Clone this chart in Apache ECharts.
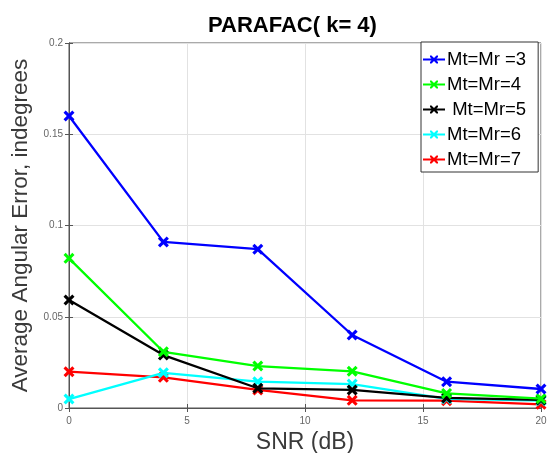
<!DOCTYPE html>
<html>
<head>
<meta charset="utf-8">
<script src="https://cdn.jsdelivr.net/npm/echarts@6/dist/echarts.min.js"></script>
<style>html,body{margin:0;padding:0;background:#fff}#c{width:552px;height:453px}</style>
</head>
<body>
<div id="c"></div>
<script>
var snr = [0, 4, 8, 12, 16, 20];
var seriesNames = ['Mt=Mr =3', 'Mt=Mr=4', ' Mt=Mr=5', 'Mt=Mr=6', 'Mt=Mr=7'];
var seriesColors = ['#0000ff', '#00ff00', '#000000', '#00ffff', '#ff0000'];
var m3 = [0.160, 0.091, 0.087, 0.040, 0.0144, 0.0104];
var m4 = [0.082, 0.0308, 0.023, 0.0201, 0.008, 0.0051];
var m5 = [0.0592, 0.029, 0.0108, 0.0099, 0.0055, 0.0044];
var m6 = [0.0049, 0.0193, 0.0144, 0.0131, 0.005, 0.004];
var m7 = [0.0199, 0.0168, 0.0099, 0.0042, 0.004, 0.002];
var xTicks = [0, 5, 10, 15, 20];
var yTicks = [0, 0.05, 0.1, 0.15, 0.2];

var allData = [m3, m4, m5, m6, m7];
var xMark = 'path://M0,2 L2,0 L5,3 L8,0 L10,2 L7,5 L10,8 L8,10 L5,7 L2,10 L0,8 L3,5 Z';
var legendIcon = 'path://M0,4.1 L22,4.1 L22,5.9 L0,5.9 Z M7,1 L8.5,1 L11,3.5 L13.5,1 L15,1 L15,2.5 L12.5,5 L15,7.5 L15,9 L13.5,9 L11,6.5 L8.5,9 L7,9 L7,7.5 L9.5,5 L7,2.5 Z';

var series = allData.map(function (d, i) {
  return {
    name: seriesNames[i],
    type: 'line',
    data: snr.map(function (x, j) { return [x, d[j]]; }),
    symbol: xMark,
    symbolSize: 11,
    showSymbol: true,
    itemStyle: { color: seriesColors[i] },
    lineStyle: { color: seriesColors[i], width: 2.3 },
    z: 10 - i
  };
});

var font = 'Liberation Sans, Arial, sans-serif';
var chart = echarts.init(document.getElementById('c'), null, { renderer: 'canvas' });
chart.setOption({
  animation: false,
  backgroundColor: '#fff',
  title: {
    text: 'PARAFAC( k= 4)',
    left: 203, top: 10,
    textStyle: { fontFamily: font, fontSize: 22, fontWeight: 'bold', color: '#000' }
  },
  grid: { left: 69, right: 11, top: 43, bottom: 45, outerBoundsMode: 'none', containLabel: false,
    show: true, borderColor: '#555', borderWidth: 1, backgroundColor: '#fff' },
  legend: {
    orient: 'vertical',
    left: 421, top: 42,
    data: seriesNames.map(function (n) { return { name: n, icon: legendIcon }; }),
    itemWidth: 22, itemHeight: 10, itemGap: 6,
    padding: [8, 12, 3, 2],
    backgroundColor: '#fff',
    borderColor: '#333', borderWidth: 1,
    textStyle: { fontFamily: font, fontSize: 18.5, lineHeight: 18, color: '#000', padding: [0, 0, 0, -3] }
  },
  xAxis: [{
    type: 'value', min: 0, max: 20, interval: 5,
    name: 'SNR (dB)', nameLocation: 'middle', nameGap: 22,
    nameTextStyle: { fontFamily: font, fontSize: 23, color: '#3a3a3a' },
    axisLine: { show: true, lineStyle: { color: '#555' } },
    axisTick: { show: true, inside: true, length: 4, lineStyle: { color: '#555' } },
    axisLabel: { fontFamily: font, fontSize: 10, color: '#666', margin: 8 },
    splitLine: { show: true, lineStyle: { color: '#e2e2e2', width: 1 } }
  }, {
    type: 'value', min: 0, max: 20, interval: 5, position: 'top',
    axisLine: { show: true, lineStyle: { color: '#555' } },
    axisTick: { show: true, inside: true, length: 4, lineStyle: { color: '#555' } },
    axisLabel: { show: false }, splitLine: { show: false }
  }],
  yAxis: [{
    type: 'value', min: 0, max: 0.2, interval: 0.05,
    name: 'Average Angular Error, indegrees', nameLocation: 'middle', nameGap: 34,
    nameTextStyle: { fontFamily: font, fontSize: 22.5, color: '#3a3a3a' },
    axisLine: { show: true, lineStyle: { color: '#555' } },
    axisTick: { show: true, inside: true, length: 4, lineStyle: { color: '#555' } },
    axisLabel: { fontFamily: font, fontSize: 10, color: '#666', margin: 6,
      formatter: function (v) { return String(Math.round(v * 100) / 100); } },
    splitLine: { show: true, lineStyle: { color: '#e2e2e2', width: 1 } }
  }, {
    type: 'value', min: 0, max: 0.2, interval: 0.05, position: 'right',
    axisLine: { show: true, lineStyle: { color: '#555' } },
    axisTick: { show: true, inside: true, length: 4, lineStyle: { color: '#555' } },
    axisLabel: { show: false }, splitLine: { show: false }
  }],
  series: series
});
</script>
</body>
</html>
